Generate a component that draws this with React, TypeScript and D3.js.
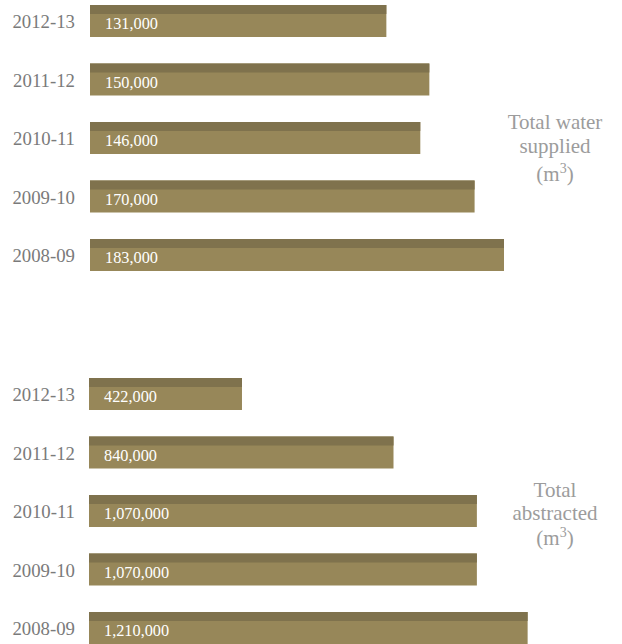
import * as d3 from 'd3';

const YEARS = ['2012-13', '2011-12', '2010-11', '2009-10', '2008-09'];
const SUPPLIED = [131000, 150000, 146000, 170000, 183000];
const ABSTRACTED = [422000, 840000, 1070000, 1070000, 1210000];

const WIDTH = 622;
const HEIGHT = 644;
const BAR_H = 32;
const STRIP_H = 9;
const DARK = '#7f724d';
const LIGHT = '#978759';
const SERIF = '"Liberation Serif", "DejaVu Serif", serif';

type PanelProps = {
  values: number[];
  top: number;
  x0: number;
  pxPerUnit: number;
  title: string[];
  titleBaselines: number[];
};

function Panel({ values, top, x0, pxPerUnit, title, titleBaselines }: PanelProps) {
  const max = d3.max(values) ?? 0;
  const x = d3
    .scaleLinear()
    .domain([0, max])
    .range([x0, x0 + max * pxPerUnit]);
  const y = d3
    .scaleBand<string>()
    .domain(YEARS)
    .range([top, top + 4 * 58.5 + BAR_H])
    .paddingInner(26.5 / 58.5)
    .paddingOuter(0);
  const fmt = d3.format(',');

  return (
    <g>
      {YEARS.map((yr, i) => {
        const by = y(yr) ?? 0;
        const w = x(values[i]) - x(0);
        return (
          <g key={yr}>
            <text
              x={75}
              y={by + 23}
              textAnchor="end"
              fontFamily={SERIF}
              fontSize={18.8}
              fill="#7a7a7a"
            >
              {yr}
            </text>
            <rect x={x(0)} y={by} width={w} height={y.bandwidth()} fill={LIGHT} />
            <rect x={x(0)} y={by} width={w} height={STRIP_H} fill={DARK} />
            <text
              x={x(0) + 15}
              y={by + 24}
              fontFamily={SERIF}
              fontSize={16.3}
              fill="#ffffff"
            >
              {fmt(values[i])}
            </text>
          </g>
        );
      })}
      {title.map((line, i) => (
        <text
          key={i}
          x={555}
          y={titleBaselines[i]}
          textAnchor="middle"
          fontFamily={SERIF}
          fontSize={21}
          fill="#9c9c9c"
        >
          {line}
        </text>
      ))}
      <text
        x={555}
        y={titleBaselines[2]}
        textAnchor="middle"
        fontFamily={SERIF}
        fontSize={21}
        fill="#9c9c9c"
      >
        (m<tspan dy={-8} fontSize={14}>3</tspan>
        <tspan dy={8}>)</tspan>
      </text>
    </g>
  );
}

export default function App() {
  return (
    <svg
      width={WIDTH}
      height={HEIGHT}
      style={{ position: 'absolute', left: 0, top: 0, display: 'block', background: '#fff' }}
    >
      <Panel
        values={SUPPLIED}
        top={5}
        x0={90}
        pxPerUnit={414 / 183000}
        title={['Total water', 'supplied']}
        titleBaselines={[129, 153, 181]}
      />
      <Panel
        values={ABSTRACTED}
        top={378}
        x0={89}
        pxPerUnit={0.0003625}
        title={['Total', 'abstracted']}
        titleBaselines={[497, 520, 545]}
      />
    </svg>
  );
}
